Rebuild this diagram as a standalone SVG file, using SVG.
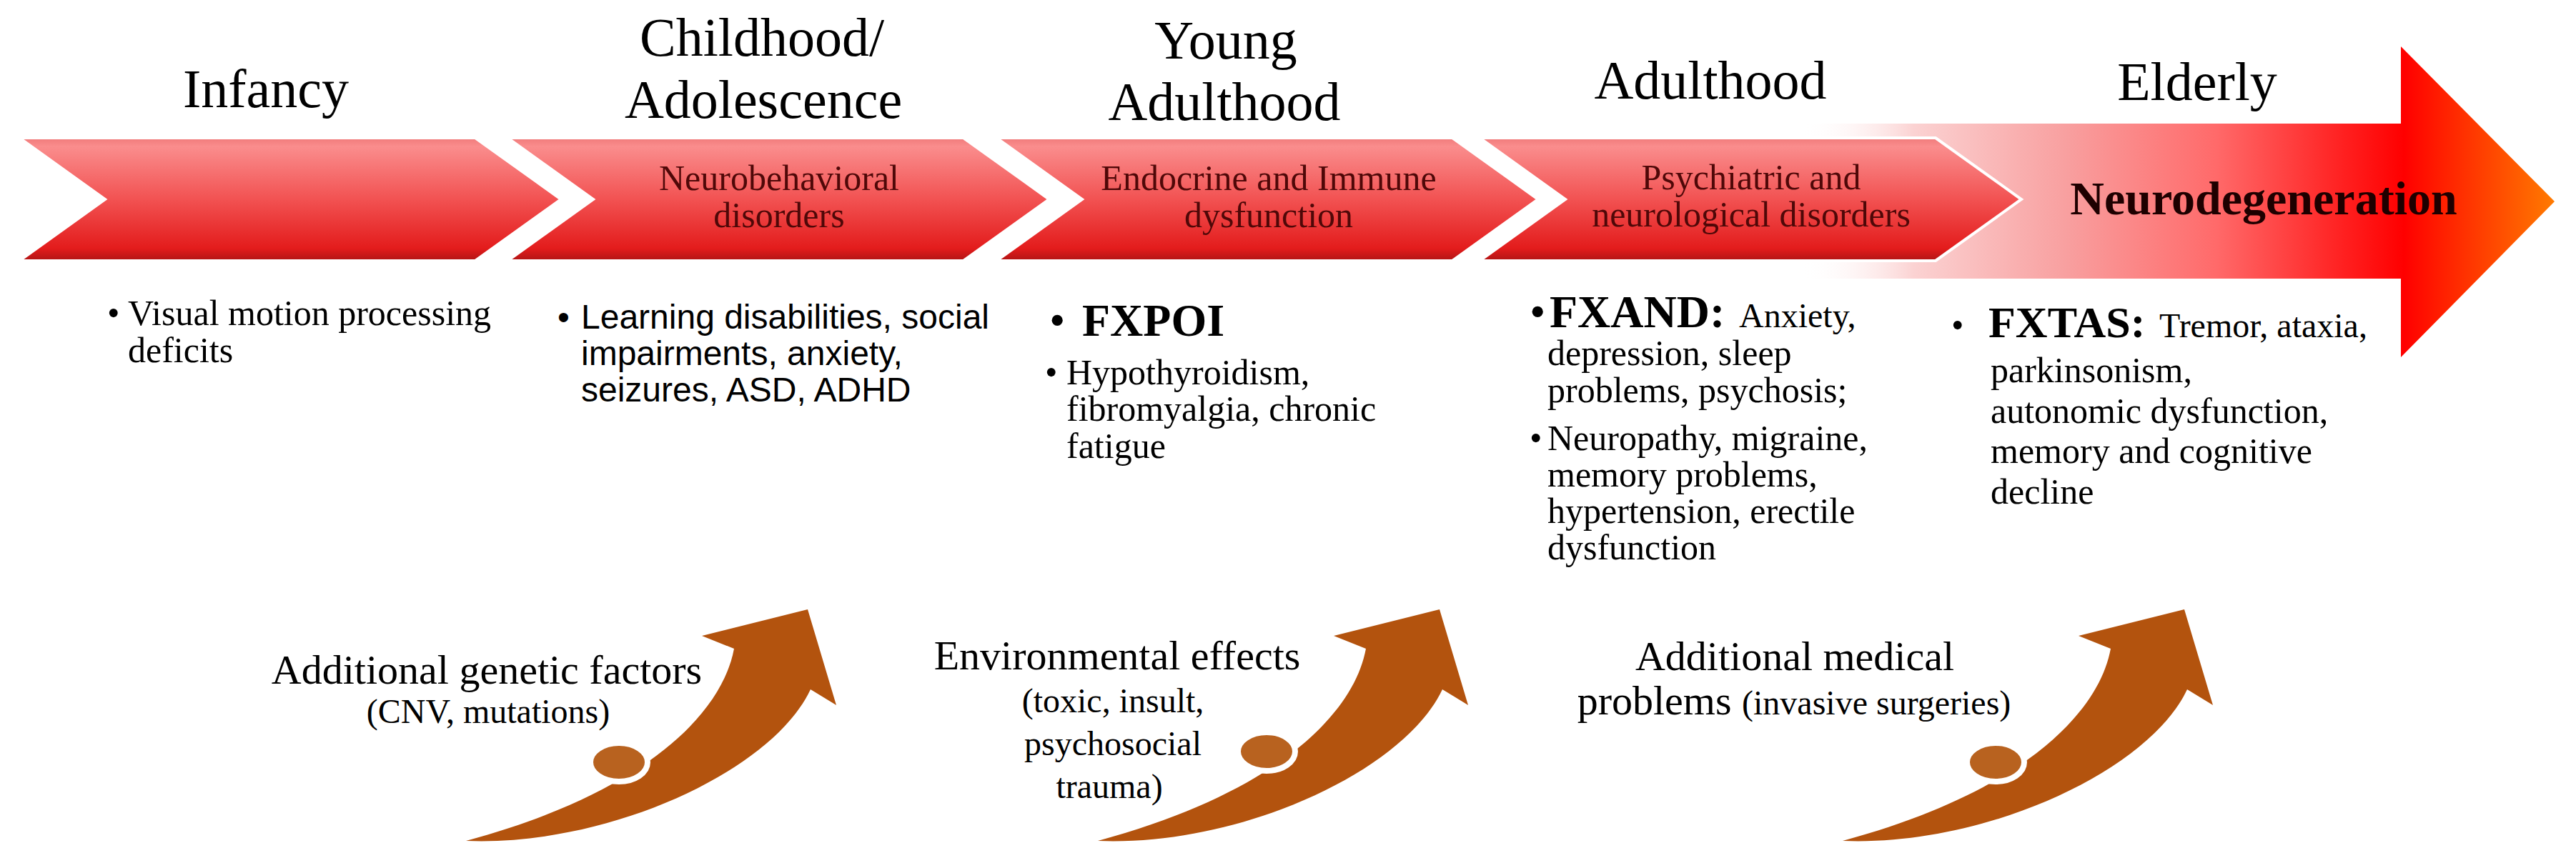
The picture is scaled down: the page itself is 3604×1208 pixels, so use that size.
<svg xmlns="http://www.w3.org/2000/svg" width="3604" height="1208" viewBox="0 0 3604 1208" xml:space="preserve">
<defs>
  <linearGradient id="chevFill" x1="0" y1="0" x2="0" y2="1">
    <stop offset="0" stop-color="#f07a7a"/>
    <stop offset="0.07" stop-color="#fa8d8d"/>
    <stop offset="0.5" stop-color="#f25252"/>
    <stop offset="0.9" stop-color="#e31c1c"/>
    <stop offset="1" stop-color="#b01414"/>
  </linearGradient>
  <linearGradient id="bigFill" gradientUnits="userSpaceOnUse" x1="2520" y1="0" x2="3574" y2="0">
    <stop offset="0" stop-color="#ffffff" stop-opacity="0"/>
    <stop offset="0.15" stop-color="#fbd2d2"/>
    <stop offset="0.35" stop-color="#f8a0a0"/>
    <stop offset="0.55" stop-color="#ff6a6a"/>
    <stop offset="0.72" stop-color="#ff2020"/>
    <stop offset="0.8" stop-color="#ff0000"/>
    <stop offset="1" stop-color="#ff7a00"/>
  </linearGradient>
  <path id="chev" d="M0,0 H638 L758,86 L638,172 H0 L120,86 Z"/>
  <path id="brownArrow" d="M-478,324 C-280,332 -50,227 4,112 L40,134 L0,0 L-148,37 L-103,55 C-120,147 -230,257 -478,324 Z"/>
  <style>
    .head { font-family: "Liberation Serif", serif; font-size: 76px; fill: #000; text-anchor: middle; }
    .chev { fill: url(#chevFill); stroke: #ffffff; stroke-width: 4; }
    .ctext { font-family: "Liberation Serif", serif; font-size: 50px; fill: #4f0808; text-anchor: middle; }
    .body { font-family: "Liberation Serif", serif; font-size: 50px; fill: #000; }
    .sans { font-family: "Liberation Sans", sans-serif; font-size: 48px; fill: #000; }
    .bold { font-weight: bold; }
    .brown { fill: #b3530e; }
    .ball { fill: #b8621f; stroke: #ffffff; stroke-width: 8; }
    .factor { font-family: "Liberation Serif", serif; font-size: 58px; fill: #000; text-anchor: middle; }
    .small { font-size: 48px; }
  </style>
</defs>
<rect width="3604" height="1208" fill="#ffffff"/>

<g id="elderly-arrow">
  <path d="M2520,173 H3359 V65 L3574,282 L3359,500 V390 H2520 Z" fill="url(#bigFill)"/>
  <text class="ctext bold" x="3167" y="300" style="font-size:66px;fill:#1e0000">Neurodegeneration</text>
</g>

<g id="infancy">
  <text class="head" x="372" y="150">Infancy</text>
  <use href="#chev" class="chev" transform="translate(27,193)"/>
  <text class="body"><tspan x="150" y="455">•</tspan><tspan x="179" y="455">Visual  motion  processing</tspan><tspan x="179" y="507">deficits</tspan></text>
</g>

<g id="childhood">
  <text class="head" x="1066" y="78">Childhood/</text>
  <text class="head" x="1068" y="165">Adolescence</text>
  <use href="#chev" class="chev" transform="translate(710,193)"/>
  <text class="ctext" x="1090" y="266">Neurobehavioral</text>
  <text class="ctext" x="1090" y="318">disorders</text>
  <text class="sans"><tspan x="780" y="460">•</tspan><tspan x="813" y="460">Learning disabilities, social</tspan><tspan x="813" y="511">impairments, anxiety,</tspan><tspan x="813" y="562">seizures, ASD, ADHD</tspan></text>
</g>

<g id="young-adulthood">
  <text class="head" x="1715" y="82">Young</text>
  <text class="head" x="1713" y="168">Adulthood</text>
  <use href="#chev" class="chev" transform="translate(1394,193)"/>
  <text class="ctext" x="1775" y="266">Endocrine  and Immune</text>
  <text class="ctext" x="1775" y="318">dysfunction</text>
  <text class="body"><tspan x="1468" y="470" style="font-size:64px">•</tspan><tspan x="1514" y="470" class="bold" style="font-size:64px">FXPOI</tspan></text>
  <text class="body"><tspan x="1462" y="538">•</tspan><tspan x="1492" y="538">Hypothyroidism,</tspan><tspan x="1492" y="589">fibromyalgia,  chronic</tspan><tspan x="1492" y="641">fatigue</tspan></text>
</g>

<g id="adulthood">
  <text class="head" x="2393" y="138">Adulthood</text>
  <use href="#chev" class="chev" transform="translate(2070,193)"/>
  <text class="ctext" x="2450" y="265">Psychiatric  and</text>
  <text class="ctext" x="2450" y="317">neurological  disorders</text>
  <text class="body"><tspan x="2140" y="458" style="font-size:64px">•</tspan><tspan x="2168" y="458" class="bold" style="font-size:64px">FXAND:</tspan><tspan x="2433" y="458" style="font-size:48px">Anxiety,</tspan><tspan x="2165" y="511">depression,  sleep</tspan><tspan x="2165" y="563">problems,  psychosis;</tspan></text>
  <text class="body"><tspan x="2140" y="630">•</tspan><tspan x="2165" y="630">Neuropathy,  migraine,</tspan><tspan x="2165" y="681">memory  problems,</tspan><tspan x="2165" y="732">hypertension,  erectile</tspan><tspan x="2165" y="783">dysfunction</tspan></text>
</g>

<g id="elderly">
  <text class="head" x="3074" y="140">Elderly</text>
  <text class="body"><tspan x="2730" y="472">•</tspan><tspan x="2782" y="472" class="bold" style="font-size:62px">FXTAS:</tspan><tspan x="3021" y="472" style="font-size:48px">Tremor,  ataxia,</tspan><tspan x="2785" y="535">parkinsonism,</tspan><tspan x="2785" y="592">autonomic  dysfunction,</tspan><tspan x="2785" y="648">memory and cognitive</tspan><tspan x="2785" y="705">decline</tspan></text>
</g>

<g id="genetic-factors">
  <use href="#brownArrow" class="brown" transform="translate(1130,853)"/>
  <ellipse class="ball" cx="866" cy="1067" rx="40" ry="27"/>
  <text class="factor" x="681" y="957">Additional genetic factors</text>
  <text class="factor small" x="683" y="1012">(CNV, mutations)</text>
</g>

<g id="environmental-effects">
  <use href="#brownArrow" class="brown" transform="translate(2014,853)"/>
  <ellipse class="ball" cx="1772" cy="1052" rx="40" ry="27"/>
  <text class="factor" x="1563" y="937">Environmental effects</text>
  <text class="factor small" x="1557" y="997">(toxic,  insult,</text>
  <text class="factor small" x="1557" y="1057">psychosocial</text>
  <text class="factor small" x="1552" y="1117">trauma)</text>
</g>

<g id="medical-problems">
  <use href="#brownArrow" class="brown" transform="translate(3056,853)"/>
  <ellipse class="ball" cx="2792" cy="1067" rx="40" ry="27"/>
  <text class="factor" x="2511" y="938">Additional medical</text>
  <text class="factor" x="2510" y="1000">problems <tspan class="small">(invasive  surgeries)</tspan></text>
</g>
</svg>
